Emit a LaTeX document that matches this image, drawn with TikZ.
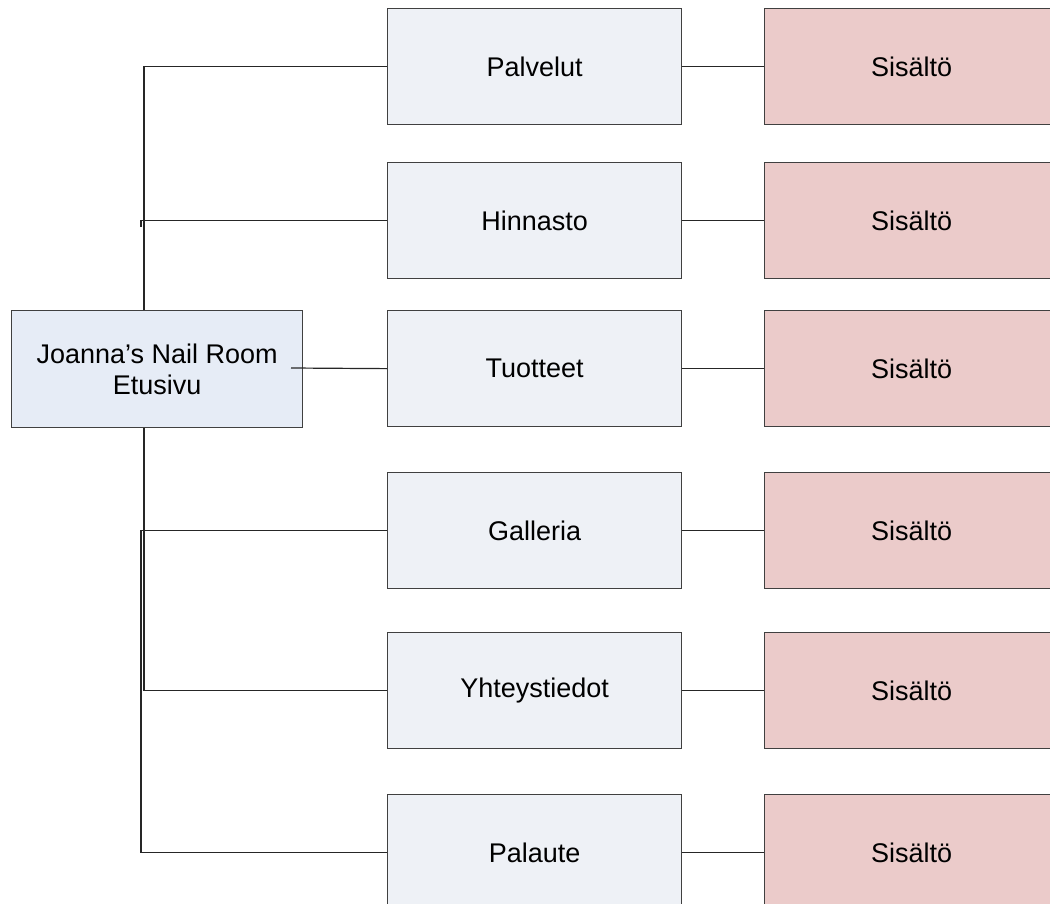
\documentclass[tikz,border=0pt]{standalone}
\usepackage{fontspec}
\setmainfont{Liberation Sans}
\definecolor{midfill}{HTML}{EEF1F6}
\definecolor{mainfill}{HTML}{E6ECF6}
\definecolor{rightfill}{HTML}{EBCBCA}
\definecolor{edge}{HTML}{404040}
\begin{document}
\begin{tikzpicture}[x=1pt,y=-1pt,
  box/.style={draw=edge,line width=1.3pt,rectangle,anchor=north west,inner sep=0pt,
    minimum width=294pt,minimum height=116pt,font=\fontsize{27}{31}\selectfont,align=center},
  midbox/.style={box,fill=midfill},
  rightbox/.style={box,fill=rightfill},
  mainbox/.style={box,fill=mainfill,minimum width=291pt,minimum height=117pt},
  conn/.style={draw=black!85,line width=1.2pt}]
\clip (0,0) rectangle (1050,904);
\fill[white] (0,0) rectangle (1050,904);
\node[mainbox] (main) at (11,310) {Joanna’s Nail Room\\Etusivu};
\foreach \n/\t/\y in {a/Palvelut/8, b/Hinnasto/162, c/Tuotteet/310, d/Galleria/472, e/Yhteystiedot/632, f/Palaute/794}{
  \node[midbox] (m\n) at (387,\y) {\t};
  \node[rightbox] (r\n) at (764,\y) {Sisältö};
  \draw[conn] (m\n.east) -- (r\n.west);
}
\coordinate (tick) at (141,227);
\coordinate (inmain) at (291,368);
\draw[conn] (main.north -| 144,0) -- (144,0 |- ma.west) -- (ma.west);
\draw[conn] (tick) -- (tick |- mb.west) -- (mb.west);
\draw[conn] (inmain) -- (mc.west);
\draw[conn] (main.south -| 144,0) -- (144,0 |- me.west) -- (me.west);
\draw[conn] (mf.west) -- (141,0 |- mf.west) -- (141,0 |- md.west) -- (md.west);
\end{tikzpicture}
\end{document}
